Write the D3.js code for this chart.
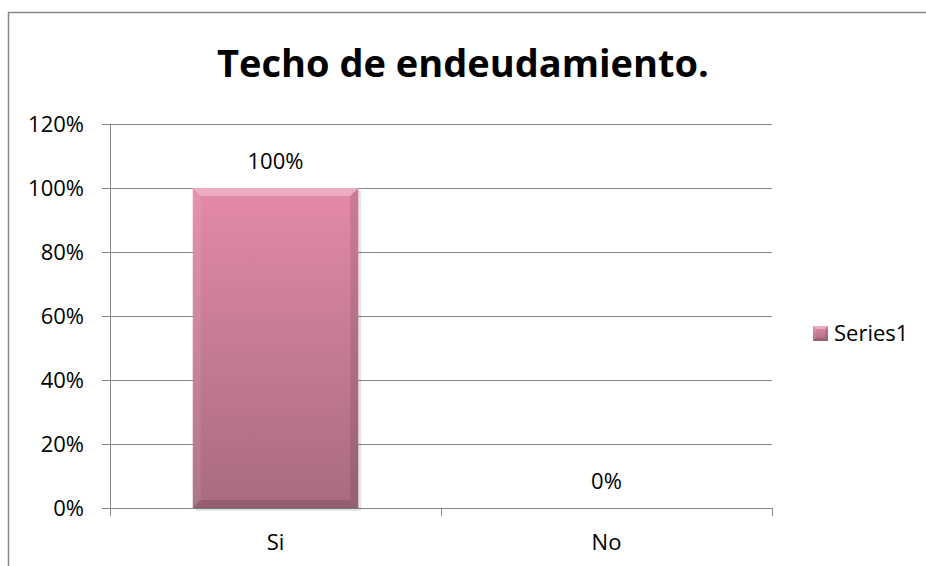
<!DOCTYPE html>
<meta charset="utf-8">
<style>
body { margin: 0; background: #fff; }
text { font-family: "Open Sans", "Liberation Sans", sans-serif; fill: #000; }
</style>
<body>
<div id="chart"></div>
<script src="https://d3js.org/d3.v7.min.js"></script>
<script>
var categories = ['Si', 'No']
var values = [1.0, 0.0]
var yTicks = [0, 0.2, 0.4, 0.6, 0.8, 1.0, 1.2]
var seriesName = 'Series1'
var title = 'Techo de endeudamiento.'

var W = 926, H = 566
var margin = { top: 124, right: 154, bottom: 58, left: 110 }
var width = W - margin.left - margin.right
var height = H - margin.top - margin.bottom
var bev = 8

var svg = d3.select('#chart').append('svg')
    .attr('width', W)
    .attr('height', H)

var defs = svg.append('defs')
var grad = defs.append('linearGradient')
    .attr('id', 'barGrad')
    .attr('x1', 0).attr('y1', 0).attr('x2', 0).attr('y2', 1)
grad.append('stop').attr('offset', '0%').attr('stop-color', '#e48aa8')
grad.append('stop').attr('offset', '100%').attr('stop-color', '#a86b81')

// chart border
svg.append('rect')
    .attr('x', 8.5).attr('y', 12.5)
    .attr('width', W + 10).attr('height', H + 10)
    .style('fill', 'none')
    .style('stroke', '#868686')
    .style('stroke-width', 1.5)

svg.append('text')
    .attr('x', 463)
    .attr('y', 77)
    .attr('text-anchor', 'middle')
    .style('font-size', '38px')
    .style('font-weight', 'bold')
    .text(title)

var g = svg.append('g')
    .attr('transform', 'translate(' + margin.left + ',' + margin.top + ')')

var x = d3.scaleBand()
    .domain(categories)
    .range([0, width])
    .paddingInner(0.5)
    .paddingOuter(0.25)
var xOuter = d3.scaleBand().domain(categories).range([0, width])
var y = d3.scaleLinear()
    .domain([0, 1.2])
    .range([height, 0])

// gridlines
g.selectAll('line.grid')
    .data(yTicks.slice(1))
    .enter().append('line')
    .attr('class', 'grid')
    .attr('x1', 0).attr('x2', width)
    .attr('y1', function (d) { return Math.round(y(d)) + 0.5 })
    .attr('y2', function (d) { return Math.round(y(d)) + 0.5 })
    .style('stroke', '#868686')
    .style('stroke-width', 1)

// y axis
var yAxis = d3.axisLeft(y)
    .tickValues(yTicks)
    .tickFormat(d3.format('.0%'))
    .tickSize(8)
    .tickPadding(18)
var gy = g.append('g').call(yAxis)
gy.select('.domain').style('stroke', '#868686')
gy.selectAll('.tick line').style('stroke', '#868686')
gy.selectAll('.tick text').style('font-size', '22px').style('font-family', null)

// x axis
var gx = g.append('g').attr('transform', 'translate(0,' + height + ')')
gx.append('line')
    .attr('x1', 0).attr('x2', width)
    .attr('y1', 0.5).attr('y2', 0.5)
    .style('stroke', '#868686')
gx.selectAll('line.xt')
    .data(categories.concat(['end']))
    .enter().append('line')
    .attr('x1', function (d, i) { return Math.round(i * xOuter.bandwidth()) + 0.5 })
    .attr('x2', function (d, i) { return Math.round(i * xOuter.bandwidth()) + 0.5 })
    .attr('y1', 0).attr('y2', 8)
    .style('stroke', '#868686')
gx.selectAll('text')
    .data(categories)
    .enter().append('text')
    .attr('x', function (d) { return xOuter(d) + xOuter.bandwidth() / 2 })
    .attr('y', 42)
    .attr('text-anchor', 'middle')
    .style('font-size', '22px')
    .text(function (d) { return d })

// bars with bevel
var bars = g.selectAll('g.bar')
    .data(values.filter(function (d) { return d > 0 }))
    .enter().append('g')
    .attr('class', 'bar')
    .attr('transform', function (d, i) { return 'translate(' + x(categories[values.indexOf(d)]) + ',' + y(d) + ')' })

function bevelShape(sel, w, h, b) {
    sel.append('rect')
        .attr('x', 3).attr('y', 3)
        .attr('width', w).attr('height', h)
        .style('fill', '#000').style('opacity', 0.1)
    sel.append('rect')
        .attr('width', w).attr('height', h)
        .style('fill', 'url(#barGrad)')
    // top
    sel.append('polygon')
        .attr('points', [[0, 0], [w, 0], [w - b, b], [b, b]].join(' '))
        .style('fill', '#fff').style('opacity', 0.3)
    // left
    sel.append('polygon')
        .attr('points', [[0, 0], [b, b], [b, h - b], [0, h]].join(' '))
        .style('fill', '#fff').style('opacity', 0.08)
    // right
    sel.append('polygon')
        .attr('points', [[w, 0], [w, h], [w - b, h - b], [w - b, b]].join(' '))
        .style('fill', '#000').style('opacity', 0.1)
    // bottom
    sel.append('polygon')
        .attr('points', [[0, h], [b, h - b], [w - b, h - b], [w, h]].join(' '))
        .style('fill', '#000').style('opacity', 0.12)
}

bars.each(function (d) {
    bevelShape(d3.select(this), x.bandwidth(), y(0) - y(d), bev)
})

// data labels
g.selectAll('text.lbl')
    .data(values)
    .enter().append('text')
    .attr('class', 'lbl')
    .attr('x', function (d, i) { return x(categories[i]) + x.bandwidth() / 2 })
    .attr('y', function (d) { return y(d) - 19 })
    .attr('text-anchor', 'middle')
    .style('font-size', '22px')
    .text(function (d) { return d3.format('.0%')(d) })

// legend
var lg = svg.append('g').attr('transform', 'translate(813,326)')
bevelShape(lg, 15, 15, 3)
lg.select('rect').remove()
lg.append('text')
    .attr('x', 21).attr('y', 15)
    .style('font-size', '22px')
    .text(seriesName)
</script>
</body>
